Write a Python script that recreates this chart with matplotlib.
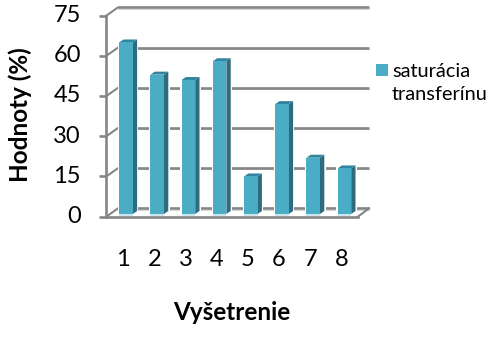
import matplotlib
matplotlib.use('Agg')
import matplotlib.pyplot as plt
from matplotlib.patches import Polygon, Rectangle

exams = [1, 2, 3, 4, 5, 6, 7, 8]
saturation = [64, 52, 50, 57, 14, 41, 21, 17]
y_ticks = [0, 15, 30, 45, 60, 75]
series_name = 'saturácia\ntransferínu'
x_title = 'Vyšetrenie'
y_title = 'Hodnoty (%)'

W, H = 493, 338
plt.rcParams['font.family'] = ['Lato', 'DejaVu Sans']

GRID = '#868686'
FRONT = '#4BACC6'
SIDE = '#2F6B7E'
TOP = '#31859C'

fig = plt.figure(figsize=(W / 100, H / 100), dpi=100)

# axes sit on the plane of the bars, 3d offsets are added in pixels below
left, right, bottom, top = 110.4, 360.0, 214.0, 13.0
ax = fig.add_axes([left / W, 1 - bottom / H, (right - left) / W, (bottom - top) / H])
ax.set_xlim(0.5, 8.5)
ax.set_ylim(0, 75)
ax.axis('off')

px_x = 8 / (right - left)
px_y = 75 / (bottom - top)


def walls(tick):
    # back wall line, diagonal on the side wall and the small tick on the axis
    lw = 1.9
    ax.plot([0.5 + 7.6 * px_x, 8.5 + 9 * px_x], [tick + 4.4 * px_y] * 2, color='#D9D9D9', lw=0.8,
            clip_on=False, zorder=1)
    ax.plot([0.5 + 7.6 * px_x, 8.5 + 9 * px_x], [tick + 5.6 * px_y] * 2, color=GRID, lw=lw,
            clip_on=False, zorder=2, solid_capstyle='butt')
    ax.plot([0.5 - 4 * px_x, 0.5 + 7.6 * px_x], [tick - 2.6 * px_y, tick + 5.6 * px_y], color=GRID, lw=1.5,
            clip_on=False, zorder=2)
    ax.plot([0.5 - 11.5 * px_x, 0.5 - 4 * px_x], [tick - 2.6 * px_y] * 2, color=GRID, lw=lw,
            clip_on=False, zorder=2, solid_capstyle='butt')


for t in y_ticks:
    walls(t)

# floor edge and vertical axis
ax.plot([0.5 - 4 * px_x, 8.5 - 2 * px_x], [-2.6 * px_y] * 2, color=GRID, lw=1.9, clip_on=False, zorder=2)
ax.plot([8.5 - 2 * px_x, 8.5 + 9 * px_x], [-2.6 * px_y, 5.6 * px_y], color=GRID, lw=1.5, clip_on=False, zorder=2)
ax.plot([0.5 - 4 * px_x] * 2, [-2.6 * px_y, 75 - 2.6 * px_y], color=GRID, lw=1.9, clip_on=False, zorder=2)

bar_w = 13.6 * 8 / (right - left)
dep_x, dep_y = 4.3 * px_x, 3 * px_y
for x, v in zip(exams, saturation):
    x0, x1 = x - bar_w / 2, x + bar_w / 2
    halo = Rectangle((x0 - 1.2 * px_x, 0), x1 - x0 + dep_x + 2.4 * px_x, v + dep_y, color='white', zorder=3, lw=0)
    ax.add_patch(halo)
    ax.bar(x, v, width=bar_w, color=FRONT, zorder=5, linewidth=0)
    ax.add_patch(Polygon([(x1, 0), (x1 + dep_x, dep_y), (x1 + dep_x, v + dep_y), (x1, v)],
                         closed=True, color=SIDE, lw=0, zorder=4))
    ax.add_patch(Polygon([(x0, v), (x1, v), (x1 + dep_x, v + dep_y), (x0 + dep_x, v + dep_y)],
                         closed=True, color=TOP, lw=0, zorder=4))
    # pale strip under each bar
    ax.add_patch(Rectangle((x0, -1.7 * px_y), bar_w, 1.7 * px_y, color='#CFE6EE', lw=0, zorder=4, clip_on=False))

# axis labels
for t in y_ticks:
    ax.text(0.5 - 29.5 * px_x, t - 2.6 * px_y, str(t), ha='right', va='center', fontsize=17, color='black',
            clip_on=False)
for x in exams:
    ax.text(x - 3 * px_x, -45 * px_y, str(x), ha='center', va='center', fontsize=17, color='black', clip_on=False)

fig.text(232 / W, 1 - 312 / H, x_title, ha='center', va='center', fontsize=17.5, fontweight='bold')
fig.text(20.5 / W, 1 - 115 / H, y_title, ha='center', va='center', rotation=90, fontsize=17.5, fontweight='bold')

# legend
fig.patches.append(Rectangle((376 / W, 1 - 76 / H), 12 / W, 12 / H, transform=fig.transFigure, color=FRONT, lw=0))
fig.text(392 / W, 1 - 83 / H, series_name, ha='left', va='center', fontsize=14.4, linespacing=1.42)

fig.savefig('out.png', dpi=100)
